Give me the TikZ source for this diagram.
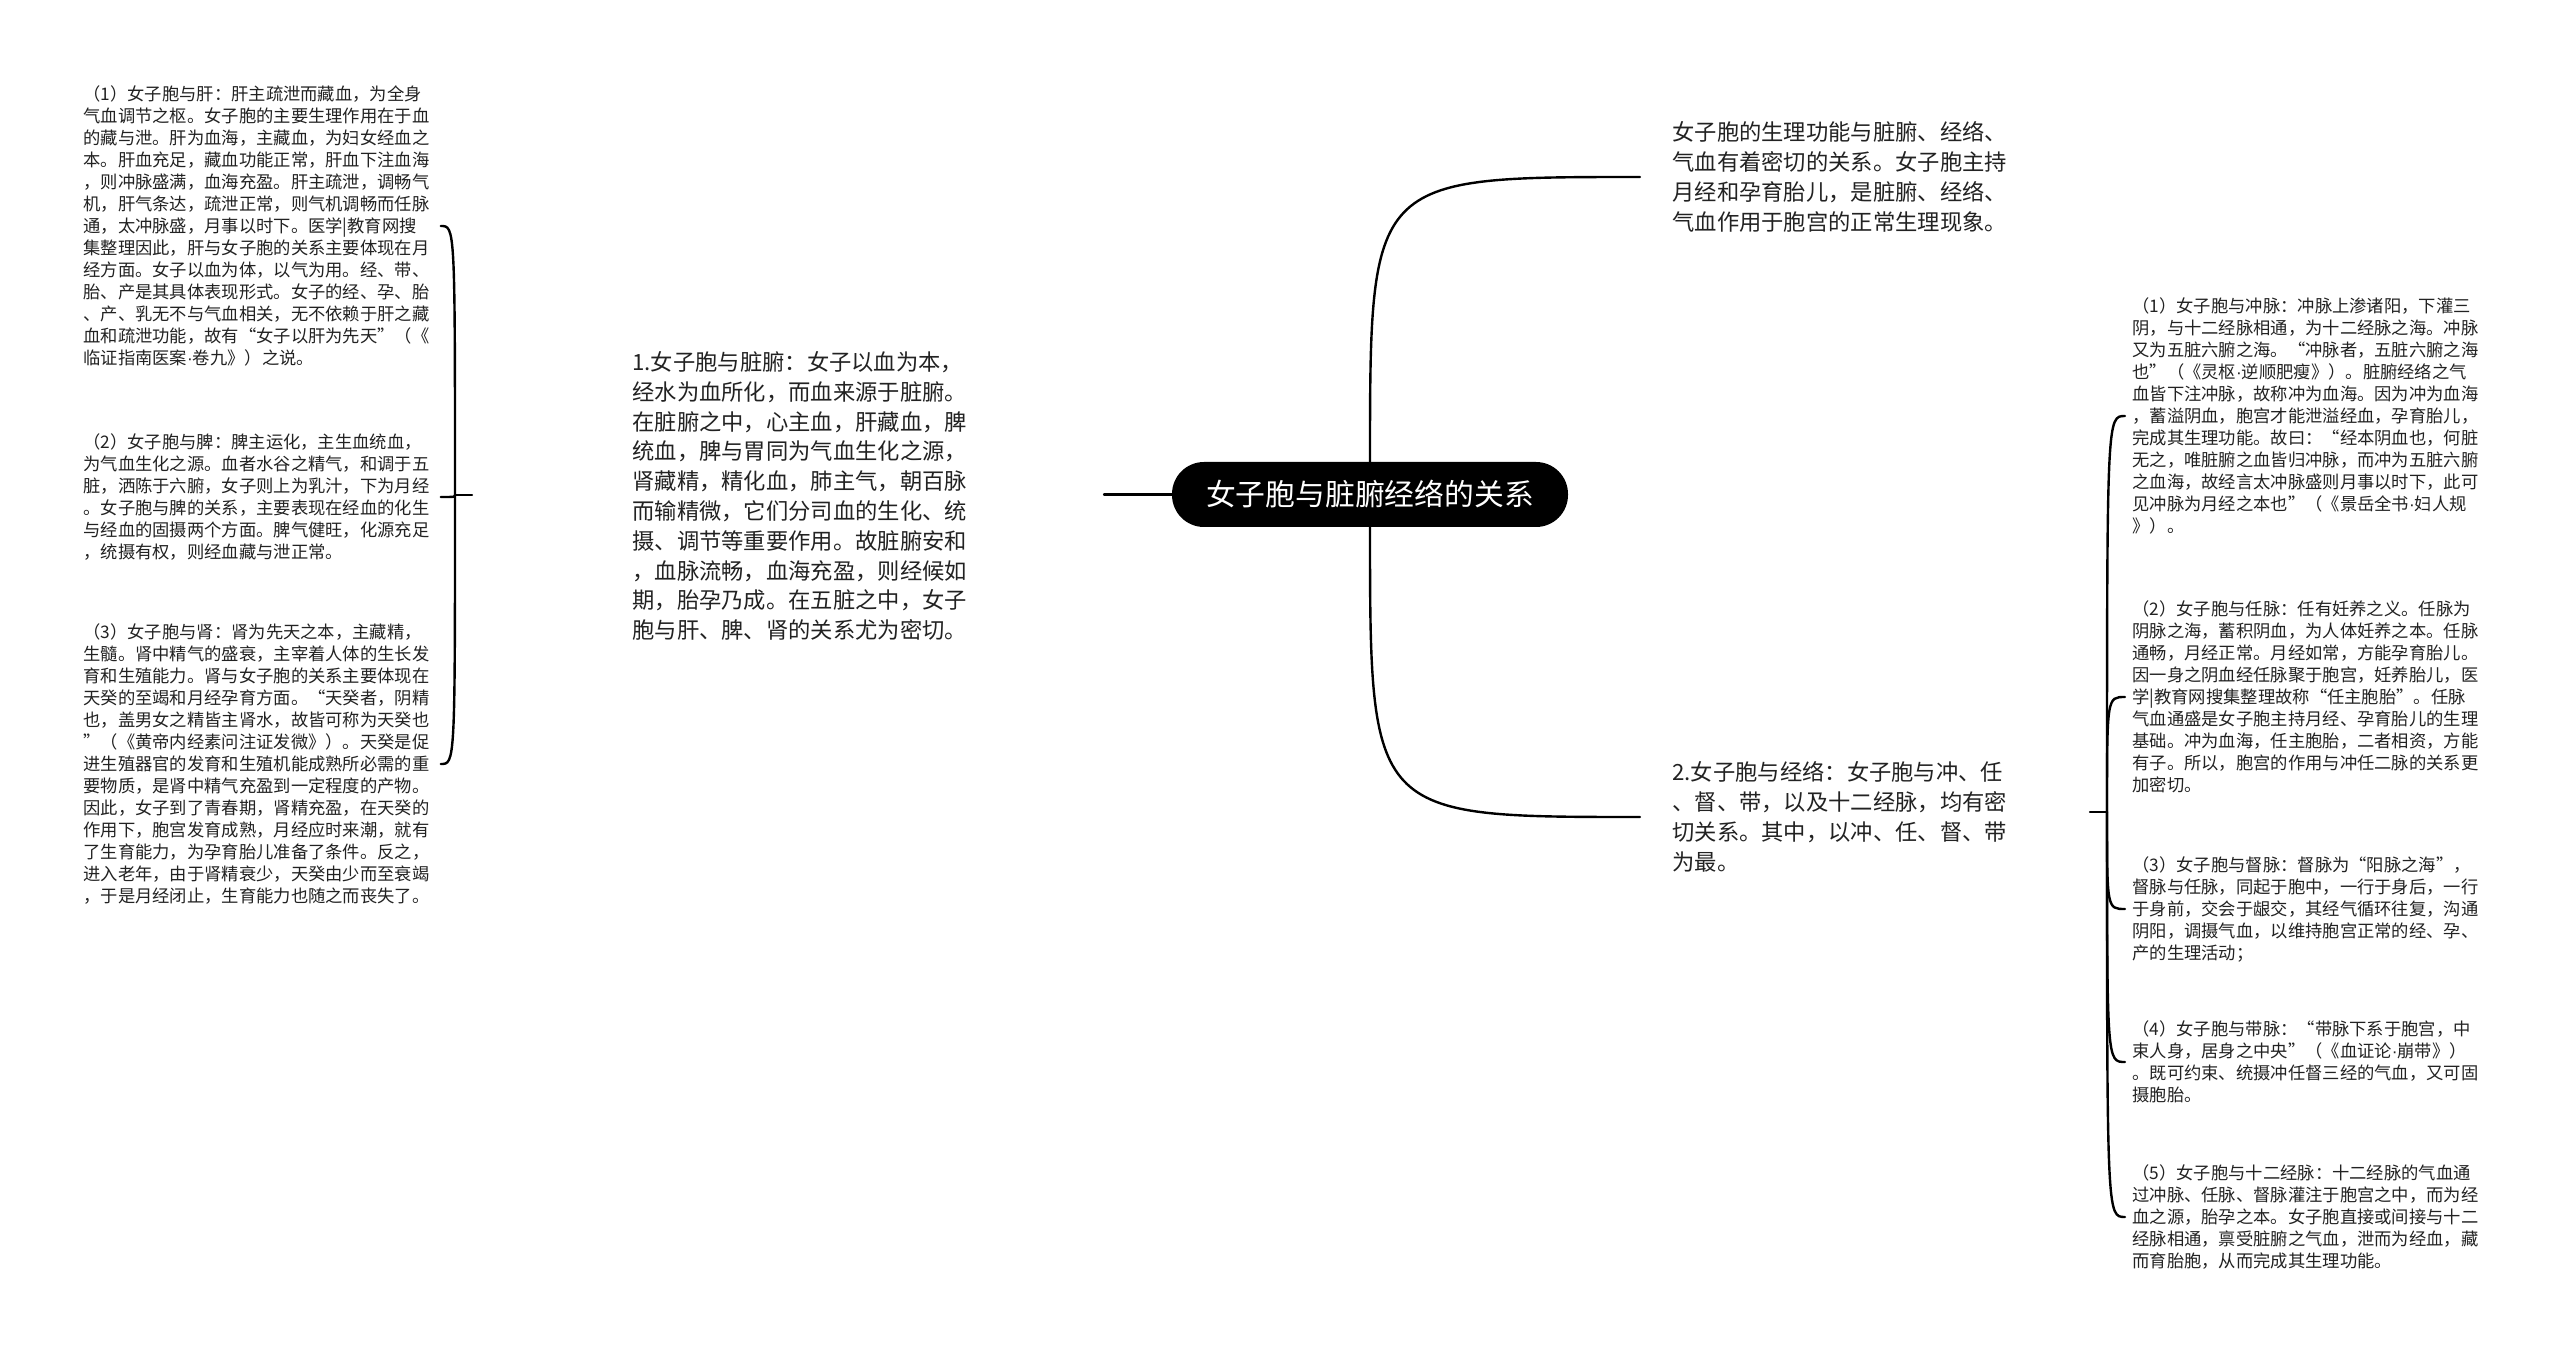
\documentclass[tikz,border=0pt]{standalone}
\usepackage{fontspec}
\setmainfont{Noto Sans CJK SC}
\newfontfamily\latfont{Liberation Sans}
\newcommand{\mdot}{{\latfont ·}}
\definecolor{txt}{RGB}{34,34,34}
\tikzset{
  smalltext/.style={font=\fontsize{8.65}{11}\selectfont, align=left, inner sep=0pt, text=txt, text width=174pt},
  midtext/.style={font=\fontsize{11.15}{14.9}\selectfont, align=left, inner sep=0pt, text=txt},
  rootnode/.style={fill=black, text=white, rounded corners=16pt, minimum width=198pt, minimum height=32.5pt, font=\fontsize{14.9}{18}\selectfont, inner sep=0pt},
  conn/.style={line width=1.2pt, draw=black, line cap=round}
}
\begin{document}
\begin{tikzpicture}[x=0.5pt, y=-0.5pt]
\useasboundingbox (0,0) rectangle (2560,1353);
\fill[white] (0,0) rectangle (2560,1353);

% root
\node[rootnode] (root) at (1370,494.5) {女子胞与脏腑经络的关系};

% level 1
\node[midtext, anchor=west] (n1) at (632,496) {1.女子胞与脏腑：女子以血为本，\\经水为血所化，而血来源于脏腑。\\在脏腑之中，心主血，肝藏血，脾\\统血，脾与胃同为气血生化之源，\\肾藏精，精化血，肺主气，朝百脉\\而输精微，它们分司血的生化、统\\摄、调节等重要作用。故脏腑安和\\，血脉流畅，血海充盈，则经候如\\期，胎孕乃成。在五脏之中，女子\\胞与肝、脾、肾的关系尤为密切。};

\node[midtext, anchor=west] (t0) at (1672,177) {女子胞的生理功能与脏腑、经络、\\气血有着密切的关系。女子胞主持\\月经和孕育胎儿，是脏腑、经络、\\气血作用于胞宫的正常生理现象。};

\node[midtext, anchor=west] (t2) at (1672,817) {2.女子胞与经络：女子胞与冲、任\\、督、带，以及十二经脉，均有密\\切关系。其中，以冲、任、督、带\\为最。};

% left children
\node[smalltext, anchor=west] (c1) at (83,226) {（1）女子胞与肝：肝主疏泄而藏血，为全身\\气血调节之枢。女子胞的主要生理作用在于血\\的藏与泄。肝为血海，主藏血，为妇女经血之\\本。肝血充足，藏血功能正常，肝血下注血海\\，则冲脉盛满，血海充盈。肝主疏泄，调畅气\\机，肝气条达，疏泄正常，则气机调畅而任脉\\通，太冲脉盛，月事以时下。医学|教育网搜\\集整理因此，肝与女子胞的关系主要体现在月\\经方面。女子以血为体，以气为用。经、带、\\胎、产是其具体表现形式。女子的经、孕、胎\\、产、乳无不与气血相关，无不依赖于肝之藏\\血和疏泄功能，故有“女子以肝为先天”（《\\临证指南医案\mdot 卷九》）之说。};

\node[smalltext, anchor=west] (c2) at (83,497) {（2）女子胞与脾：脾主运化，主生血统血，\\为气血生化之源。血者水谷之精气，和调于五\\脏，洒陈于六腑，女子则上为乳汁，下为月经\\。女子胞与脾的关系，主要表现在经血的化生\\与经血的固摄两个方面。脾气健旺，化源充足\\，统摄有权，则经血藏与泄正常。};

\node[smalltext, anchor=west] (c3) at (83,764) {（3）女子胞与肾：肾为先天之本，主藏精，\\生髓。肾中精气的盛衰，主宰着人体的生长发\\育和生殖能力。肾与女子胞的关系主要体现在\\天癸的至竭和月经孕育方面。“天癸者，阴精\\也，盖男女之精皆主肾水，故皆可称为天癸也\\”（《黄帝内经素问注证发微》）。天癸是促\\进生殖器官的发育和生殖机能成熟所必需的重\\要物质，是肾中精气充盈到一定程度的产物。\\因此，女子到了青春期，肾精充盈，在天癸的\\作用下，胞宫发育成熟，月经应时来潮，就有\\了生育能力，为孕育胎儿准备了条件。反之，\\进入老年，由于肾精衰少，天癸由少而至衰竭\\，于是月经闭止，生育能力也随之而丧失了。};

% right children
\node[smalltext, anchor=west] (r1) at (2132,416) {（1）女子胞与冲脉：冲脉上渗诸阳，下灌三\\阴，与十二经脉相通，为十二经脉之海。冲脉\\又为五脏六腑之海。“冲脉者，五脏六腑之海\\也”（《灵枢\mdot 逆顺肥瘦》）。脏腑经络之气\\血皆下注冲脉，故称冲为血海。因为冲为血海\\，蓄溢阴血，胞宫才能泄溢经血，孕育胎儿，\\完成其生理功能。故曰：“经本阴血也，何脏\\无之，唯脏腑之血皆归冲脉，而冲为五脏六腑\\之血海，故经言太冲脉盛则月事以时下，此可\\见冲脉为月经之本也”（《景岳全书\mdot 妇人规\\》）。};

\node[smalltext, anchor=west] (r2) at (2132,697) {（2）女子胞与任脉：任有妊养之义。任脉为\\阴脉之海，蓄积阴血，为人体妊养之本。任脉\\通畅，月经正常。月经如常，方能孕育胎儿。\\因一身之阴血经任脉聚于胞宫，妊养胎儿，医\\学|教育网搜集整理故称“任主胞胎”。任脉\\气血通盛是女子胞主持月经、孕育胎儿的生理\\基础。冲为血海，任主胞胎，二者相资，方能\\有子。所以，胞宫的作用与冲任二脉的关系更\\加密切。};

\node[smalltext, anchor=west] (r3) at (2132,909) {（3）女子胞与督脉：督脉为“阳脉之海”，\\督脉与任脉，同起于胞中，一行于身后，一行\\于身前，交会于龈交，其经气循环往复，沟通\\阴阳，调摄气血，以维持胞宫正常的经、孕、\\产的生理活动；};

\node[smalltext, anchor=west] (r4) at (2132,1062) {（4）女子胞与带脉：“带脉下系于胞宫，中\\束人身，居身之中央”（《血证论\mdot 崩带》）\\。既可约束、统摄冲任督三经的气血，又可固\\摄胞胎。};

\node[smalltext, anchor=west] (r5) at (2132,1217) {（5）女子胞与十二经脉：十二经脉的气血通\\过冲脉、任脉、督脉灌注于胞宫之中，而为经\\血之源，胎孕之本。女子胞直接或间接与十二\\经脉相通，禀受脏腑之气血，泄而为经血，藏\\而育胎胞，从而完成其生理功能。};

% coordinates
\coordinate (ls) at (1104,494.5);
\coordinate (lp) at (472,495);
\coordinate (lt) at (455,495);
\coordinate (rp) at (2090,812);
\coordinate (rt) at (2107,812);

% connectors from root
\draw[conn] (root.west) -- (ls);
\draw[conn] (root.north) .. controls (root.north |- t0.west) .. ([xshift=-16pt]t0.west);
\draw[conn] (root.south) .. controls (root.south |- t2.west) .. ([xshift=-16pt]t2.west);

% left bracket
\draw[conn] (lp) -- (lt);
\foreach \c in {c1,c2,c3}{
  \draw[conn] (lt) .. controls (lt |- \c.east) .. ([xshift=4.5pt]\c.east);
}

% right bracket
\draw[conn] (rp) -- (rt);
\foreach \c in {r1,r2,r3,r4,r5}{
  \draw[conn] (rt) .. controls (rt |- \c.west) .. ([xshift=-3.5pt]\c.west);
}
\end{tikzpicture}
\end{document}
